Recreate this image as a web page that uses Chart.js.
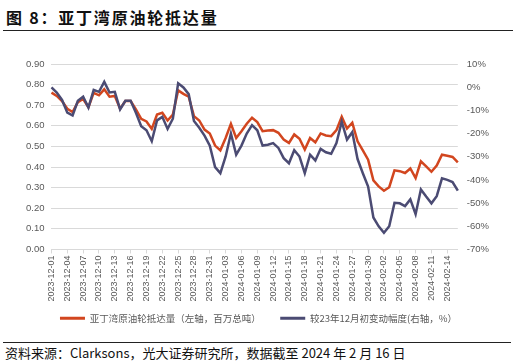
<!DOCTYPE html>
<html>
<head>
<meta charset="utf-8">
<script src="https://cdn.jsdelivr.net/npm/chart.js@4/dist/chart.umd.min.js"></script>
<style>
  html, body { margin: 0; padding: 0; background: #fff; }
  body { width: 516px; height: 364px; position: relative; overflow: hidden; font-family: "Noto Sans CJK SC", sans-serif; }
  #title { position: absolute; left: 6px; top: 5px; font-size: 16px; font-weight: bold; letter-spacing: 1.8px; color: #111; }
  #rule_top { position: absolute; left: 3px; width: 510px; top: 30px; height: 0; border-top: 1.5px solid #222; }
  #rule_bottom { position: absolute; left: 3px; width: 508px; top: 342px; height: 0; border-top: 1px solid #222; }
  #source { position: absolute; left: 5px; top: 343px; font-size: 13px; color: #111; }
  #chart { position: absolute; left: 0; top: 34px; }
</style>
</head>
<body>
<div id="title">图 8：亚丁湾原油轮抵达量</div>
<div id="rule_top"></div>
<canvas id="chart" width="516" height="302"></canvas>
<div id="rule_bottom"></div>
<div id="source">资料来源：Clarksons，光大证券研究所，数据截至 2024 年 2 月 16 日</div>
<script>
const dates = [
    '2023-12-01', '2023-12-02', '2023-12-03', '2023-12-04', '2023-12-05', '2023-12-06', '2023-12-07', '2023-12-08',
    '2023-12-09', '2023-12-10', '2023-12-11', '2023-12-12', '2023-12-13', '2023-12-14', '2023-12-15', '2023-12-16',
    '2023-12-17', '2023-12-18', '2023-12-19', '2023-12-20', '2023-12-21', '2023-12-22', '2023-12-23', '2023-12-24',
    '2023-12-25', '2023-12-26', '2023-12-27', '2023-12-28', '2023-12-29', '2023-12-30', '2023-12-31',
    '2024-01-01', '2024-01-02', '2024-01-03', '2024-01-04', '2024-01-05', '2024-01-06', '2024-01-07', '2024-01-08',
    '2024-01-09', '2024-01-10', '2024-01-11', '2024-01-12', '2024-01-13', '2024-01-14', '2024-01-15', '2024-01-16',
    '2024-01-17', '2024-01-18', '2024-01-19', '2024-01-20', '2024-01-21', '2024-01-22', '2024-01-23', '2024-01-24',
    '2024-01-25', '2024-01-26', '2024-01-27', '2024-01-28', '2024-01-29', '2024-01-30', '2024-01-31',
    '2024-02-01', '2024-02-02', '2024-02-03', '2024-02-04', '2024-02-05', '2024-02-06', '2024-02-07', '2024-02-08',
    '2024-02-09', '2024-02-10', '2024-02-11', '2024-02-12', '2024-02-13', '2024-02-14', '2024-02-15', '2024-02-16'
];

// 抵达量，百万总吨（左轴）
const arrivals = [
    0.761, 0.745, 0.720, 0.683, 0.667, 0.715, 0.730, 0.690, 0.760, 0.748,
    0.777, 0.741, 0.745, 0.683, 0.720, 0.720, 0.680, 0.634, 0.621, 0.585,
    0.655, 0.663, 0.626, 0.655, 0.772, 0.755, 0.741, 0.647, 0.626, 0.582,
    0.563, 0.504, 0.481, 0.541, 0.610, 0.541, 0.574, 0.610, 0.639, 0.618,
    0.574, 0.577, 0.579, 0.566, 0.533, 0.517, 0.558, 0.537, 0.485, 0.541,
    0.520, 0.563, 0.553, 0.550, 0.579, 0.644, 0.587, 0.615, 0.525, 0.481,
    0.436, 0.335, 0.306, 0.285, 0.302, 0.384, 0.380, 0.371, 0.393, 0.346,
    0.428, 0.403, 0.377, 0.407, 0.460, 0.455, 0.449, 0.423
];

// 较23年12月初变动幅度，%（右轴）
const change_pct = [
    -0.1, -2.3, -5.5, -11.0, -12.2, -5.9, -4.1, -8.8, -1.2, -2.0,
    2.3, -2.3, -2.0, -9.6, -5.9, -5.9, -11.0, -16.8, -18.6, -23.3,
    -14.3, -12.8, -18.0, -13.6, 1.7, -0.1, -3.0, -14.6, -17.5, -20.9,
    -25.2, -34.5, -37.1, -29.9, -20.0, -29.1, -25.2, -20.0, -16.4, -18.6,
    -25.2, -24.8, -24.1, -26.2, -30.6, -32.8, -27.2, -29.9, -37.1, -29.1,
    -31.6, -26.6, -28.1, -28.7, -24.1, -14.9, -22.6, -19.4, -31.0, -37.1,
    -42.9, -56.2, -60.0, -62.8, -60.0, -49.9, -50.1, -51.3, -48.4, -54.8,
    -44.1, -47.2, -50.1, -47.0, -39.3, -40.0, -40.9, -44.6
];

const legend_names = ['亚丁湾原油轮抵达量（左轴，百万总吨）', '较23年12月初变动幅度(右轴，%）'];

const RED = '#d2461f';
const NAVY = '#4b4b73';
const GRID = '#d9d9d9';
const TEXT = '#595959';

Chart.defaults.font.family = '"Liberation Sans", "Noto Sans CJK SC", sans-serif';
Chart.defaults.color = TEXT;

const ctx = document.getElementById('chart');
const chart = new Chart(ctx, {
    type: 'line',
    data: {
        labels: dates,
        datasets: [
            {
                label: legend_names[0],
                data: arrivals,
                yAxisID: 'y',
                borderColor: RED,
                backgroundColor: RED,
                borderWidth: 2.5,
                pointRadius: 0,
                tension: 0,
                order: 1
            },
            {
                label: legend_names[1],
                data: change_pct,
                yAxisID: 'y1',
                borderColor: NAVY,
                backgroundColor: NAVY,
                borderWidth: 2.5,
                pointRadius: 0,
                tension: 0,
                order: 0
            }
        ]
    },
    options: {
        responsive: false,
        animation: false,
        devicePixelRatio: 1,
        layout: {
            padding: { left: 19, right: 18, top: 30, bottom: 3 }
        },
        plugins: {
            title: { display: false },
            tooltip: { enabled: false },
            legend: {
                position: 'bottom',
                labels: {
                    boxWidth: 25,
                    boxHeight: 3,
                    padding: 10,
                    color: TEXT,
                    font: { size: 9.5, family: '"Noto Sans CJK SC", sans-serif' },
                    // extra space after the first entry widens the gap between the two items
                    generateLabels: (c) => c.data.datasets.map((ds, i) => ({
                        text: i === 0 ? ds.label + '\u3000\u2002' : ds.label,
                        fillStyle: ds.borderColor,
                        strokeStyle: ds.borderColor,
                        lineWidth: 0,
                        fontColor: TEXT,
                        datasetIndex: i
                    }))
                }
            }
        },
        scales: {
            x: {
                type: 'category',
                offset: false,
                border: { display: true, color: GRID },
                grid: {
                    drawOnChartArea: false,
                    drawTicks: true,
                    tickLength: 4,
                    color: (c) => (c.index % 3 === 0 ? GRID : 'rgba(0,0,0,0)')
                },
                ticks: {
                    autoSkip: false,
                    maxRotation: 90,
                    minRotation: 90,
                    padding: 2,
                    font: { size: 9 },
                    color: TEXT,
                    callback: (v, i) => (i % 3 === 0 ? dates[i] : '')
                }
            },
            y: {
                position: 'left',
                min: 0,
                max: 0.9,
                border: { display: false },
                grid: { color: GRID, lineWidth: 1, drawTicks: false },
                ticks: {
                    stepSize: 0.1,
                    padding: 7,
                    font: { size: 9.5 },
                    color: TEXT,
                    callback: (v) => Number(v).toFixed(2)
                }
            },
            y1: {
                position: 'right',
                min: -70,
                max: 10,
                border: { display: false },
                grid: { drawOnChartArea: false, drawTicks: false },
                ticks: {
                    stepSize: 10,
                    padding: 9,
                    font: { size: 9.5 },
                    color: TEXT,
                    callback: (v) => v + '%'
                }
            }
        }
    }
});
</script>
</body>
</html>
